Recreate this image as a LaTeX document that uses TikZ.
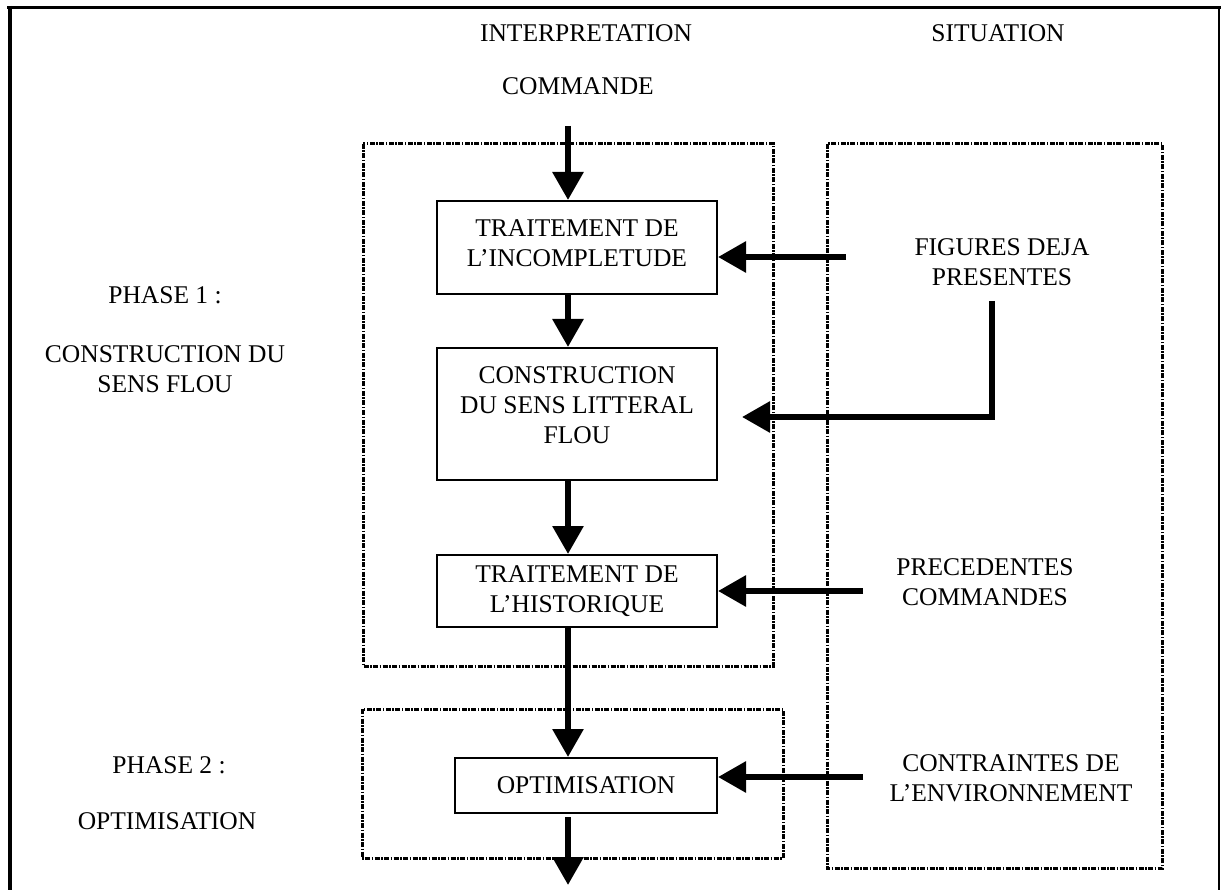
\documentclass[tikz,border=0pt]{standalone}
\usepackage{fontspec}
\setmainfont{Liberation Serif}
\usetikzlibrary{arrows.meta}
\begin{document}
\begin{tikzpicture}[x=1pt,y=-1pt,
  every node/.style={font=\fontsize{25.5}{30}\selectfont, inner sep=0pt, align=center},
  stage/.style={draw, line width=2pt, fill=white},
  frame/.style={line width=3pt, dash pattern=on 5pt off 1.5pt on 1.5pt off 1.5pt},
  flow/.style={line width=6pt, -{Triangle[length=28pt,width=30pt]}},
  ]
\useasboundingbox (0,0) rectangle (1221,890);

% page frame
\draw[line width=3.5pt] (7,7.7) -- (1221,7.7);
\draw[line width=4pt] (10.3,6) -- (10.3,890);
\draw[line width=1.2pt] (1219,7.7) -- (1219,890);

% phase and column frames
\draw[frame] (363,144) rectangle (773,666);
\draw[frame] (362,709) rectangle (783,858);
\draw[frame] (827,144) rectangle (1162,868);

% headings
\node (interp) at (586,33) {INTERPRETATION};
\node (situation) at (998,33) {SITUATION};
\node (commande) at (578,86) {COMMANDE};

% phase labels
\node (phase1) at (165,295) {PHASE 1 :};
\node (phase1txt) at (165,369) {CONSTRUCTION DU\\SENS FLOU};
\node (phase2) at (169,765) {PHASE 2 :};
\node (phase2txt) at (167,821) {OPTIMISATION};

% situation inputs
\node (figures) at (1002,262.5) {FIGURES DEJA\\PRESENTES};
\node (precedentes) at (985,582) {PRECEDENTES\\COMMANDES};
\node (contraintes) at (1011,778) {CONTRAINTES DE\\L’ENVIRONNEMENT};

% processing stages (a short empty last line lifts the text a little)
\node[stage, minimum width=280pt, minimum height=93pt] (incomp) at (577,247.5) {TRAITEMENT DE\\L’INCOMPLETUDE\\[-22pt]\mbox{}};
\node[stage, minimum width=280pt, minimum height=132pt] (litteral) at (577,414) {CONSTRUCTION\\DU SENS LITTERAL\\FLOU\\[-12pt]\mbox{}};
\node[stage, minimum width=280pt, minimum height=72pt] (histo) at (577,591) {TRAITEMENT DE\\L’HISTORIQUE};
\node[stage, minimum width=262pt, minimum height=55pt] (optim) at (586,785.5) {OPTIMISATION};

% connector end points
\coordinate (top) at (568,126);
\coordinate (out) at (568,885);
\coordinate (fig) at (846,257);
\coordinate (figdown) at (992,301);
\coordinate (figcorner) at (992,417);
\coordinate (figtip) at (742,417);
\coordinate (prec) at (863,591);
\coordinate (contr) at (863,777);

% main flow
\draw[flow] (top) -- (top |- incomp.north);
\draw[flow] (incomp.south -| top) -- (litteral.north -| top);
\draw[flow] (litteral.south -| top) -- (histo.north -| top);
\draw[flow] (histo.south -| top) -- (optim.north -| top);
\draw[flow] ([yshift=-3pt]optim.south -| top) -- (out);

% situation inputs into the stages
\draw[flow] (fig) -- (fig -| incomp.east);
\draw[flow, line join=miter] (figdown) -- (figcorner) -- (figtip);
\draw[flow] (prec) -- (prec -| histo.east);
\draw[flow] (contr) -- (contr -| optim.east);
\end{tikzpicture}
\end{document}
